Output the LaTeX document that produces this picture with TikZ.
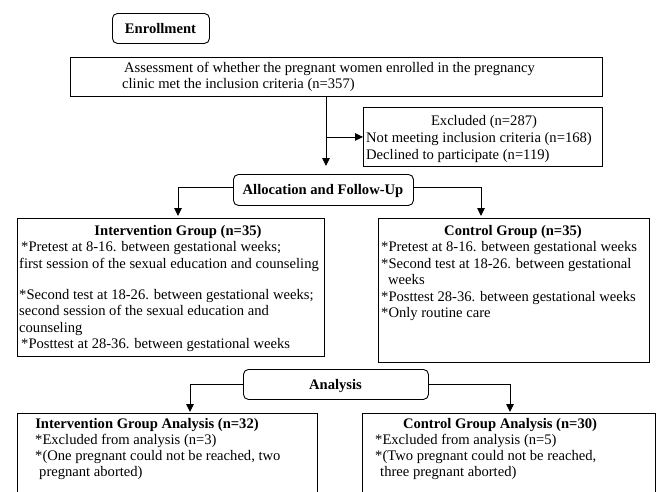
\documentclass[tikz,border=0pt]{standalone}
\usepackage{fontspec}
\setmainfont{Liberation Serif}
\usetikzlibrary{arrows.meta}
\newcommand{\fs}{\fontsize{14.6pt}{17pt}\selectfont}
\tikzset{
  box/.style={draw, line width=0.9pt, inner sep=0pt, anchor=north west},
  rbox/.style={box, rounded corners=5pt},
  txt/.style={inner sep=0pt, anchor=base west, font=\fs},
  ctxt/.style={inner sep=0pt, anchor=base, font=\fs},
  btxt/.style={inner sep=0pt, anchor=base, font=\fs\bfseries},
  arr/.style={line width=0.9pt, -{Triangle[length=8pt,width=7.5pt]}},
}
\begin{document}
\begin{tikzpicture}[x=1pt,y=-1pt]
\useasboundingbox (0,0) rectangle (663,491);
\clip (0,0) rectangle (663,491);
% boxes
\node[rbox, minimum width=97, minimum height=30] (enr) at (112,13) {};
\node[box, minimum width=532, minimum height=39] (assess) at (70,57) {};
\node[box, minimum width=239, minimum height=59] (excl) at (363,107) {};
\node[rbox, minimum width=180, minimum height=31] (alloc) at (233,174) {};
\node[box, minimum width=307, minimum height=138] (iv) at (17,218) {};
\node[box, minimum width=271, minimum height=144] (ctl) at (378,218) {};
\node[rbox, minimum width=185, minimum height=30] (ana) at (243,369) {};
\node[box, minimum width=300, minimum height=100] (ia) at (17,413) {};
\node[box, minimum width=293, minimum height=100] (ca) at (362,413) {};
% texts
\node[btxt] (enrt) at (160.5,33) {Enrollment};
\node[txt] (as1) at (124,72) {Assessment of whether the pregnant women enrolled in the pregnancy};
\node[txt] (as2) at (122,88) {clinic met the inclusion criteria (n=357)};
\node[ctxt] (ex1) at (484,125) {Excluded (n=287)};
\node[txt] (ex2) at (366,142) {Not meeting inclusion criteria (n=168)};
\node[txt] (ex3) at (366,159) {Declined to participate (n=119)};
\node[btxt] (allt) at (323,194) {Allocation and Follow-Up};
\node[btxt] (ivt) at (178,235) {Intervention Group (n=35)};
\node[txt] (iv1) at (21,251.5) {*Pretest at 8-16. between gestational weeks;};
\node[txt] (iv2) at (19,268) {first session of the sexual education and counseling};
\node[txt] (iv3) at (19,299) {*Second test at 18-26. between gestational weeks;};
\node[txt] (iv4) at (19,315.5) {second session of the sexual education and};
\node[txt] (iv5) at (19,332) {counseling};
\node[txt] (iv6) at (21,348) {*Posttest at 28-36. between gestational weeks};
\node[btxt] (ctlt) at (513,235) {Control Group (n=35)};
\node[txt] (c1t) at (381,251.5) {*Pretest at 8-16. between gestational weeks};
\node[txt] (c2t) at (381,268) {*Second test at 18-26. between gestational};
\node[txt] (c3t) at (388,284.5) {weeks};
\node[txt] (c4t) at (381,301) {*Posttest 28-36. between gestational weeks};
\node[txt] (c5t) at (381,317.5) {*Only routine care};
\node[btxt] (anat) at (335.5,389) {Analysis};
\node[btxt] (iat) at (147,428) {Intervention Group Analysis (n=32)};
\node[txt] (ia1) at (35,444) {*Excluded from analysis (n=3)};
\node[txt] (ia2) at (35,460) {*(One pregnant could not be reached, two};
\node[txt] (ia3) at (39,476) {pregnant aborted)};
\node[btxt] (cat) at (500,428) {Control Group Analysis (n=30)};
\node[txt] (ca1) at (375,444) {*Excluded from analysis (n=5)};
\node[txt] (ca2) at (375,460) {*(Two pregnant could not be reached,};
\node[txt] (ca3) at (380,476) {three pregnant aborted)};
% connector columns
\coordinate (k1) at (326,0);
\coordinate (k2) at (178,0);
\coordinate (k3) at (481,0);
\coordinate (k4) at (190,0);
\coordinate (k5) at (510,0);
% connectors
\draw[arr, shorten >=8pt] (assess.south -| k1) -- (alloc.north -| k1);
\draw[arr] (excl.west -| k1) -- (excl.west);
\draw[arr, shorten >=2pt] ([yshift=3pt]alloc.west) -| (iv.north -| k2);
\draw[arr, shorten >=2pt] ([yshift=3pt]alloc.east) -| (ctl.north -| k3);
\draw[arr, shorten >=1pt] (ana.west) -| (ia.north -| k4);
\draw[arr, shorten >=1pt] (ana.east) -| (ca.north -| k5);
\end{tikzpicture}
\end{document}
